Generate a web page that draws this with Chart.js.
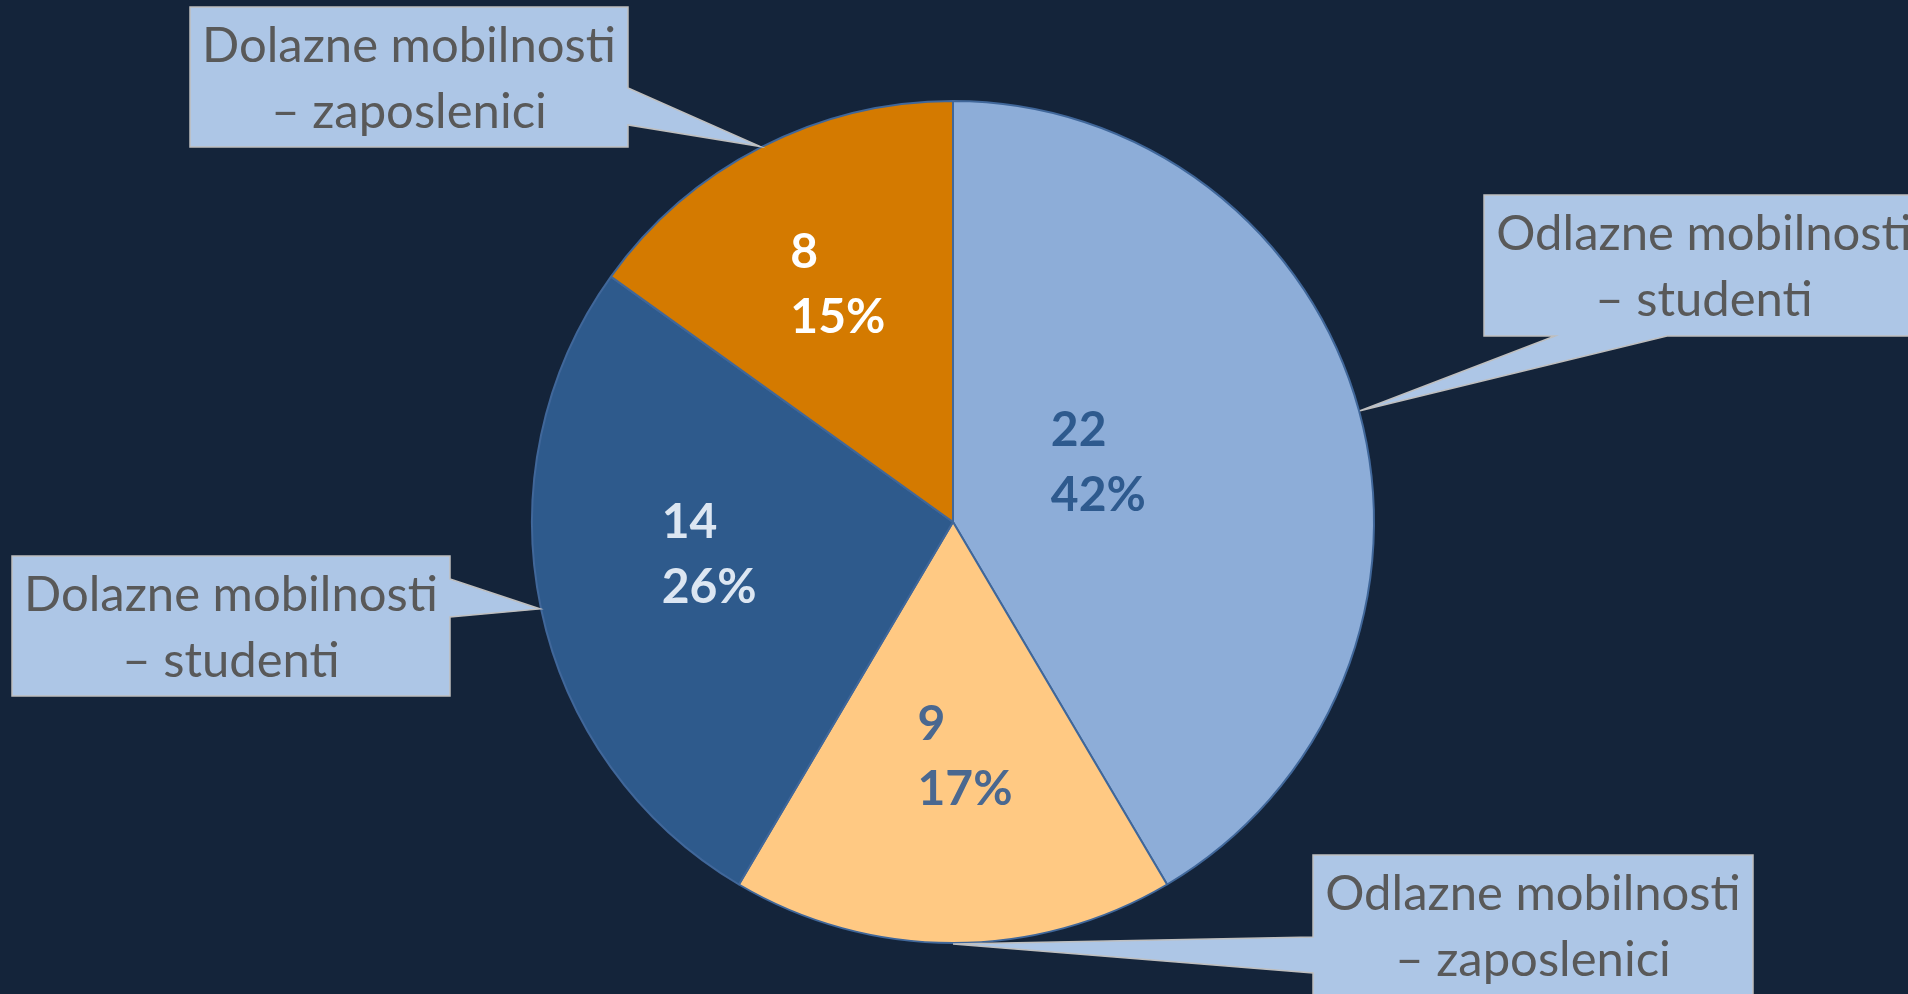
<!DOCTYPE html>
<html>
<head>
<meta charset="utf-8">
<script src="https://cdn.jsdelivr.net/npm/chart.js"></script>
<style>
  html, body { margin: 0; padding: 0; background: #14243a; }
  #wrap { width: 1908px; height: 994px; position: relative; }
</style>
</head>
<body>
<div id="wrap"><canvas id="pieChart"></canvas></div>
<script>
const categories = [
  ['Odlazne mobilnosti', '– studenti'],
  ['Odlazne mobilnosti', '– zaposlenici'],
  ['Dolazne mobilnosti', '– studenti'],
  ['Dolazne mobilnosti', '– zaposlenici']
];
const values = [22, 9, 14, 8];

const sliceColors = ['#8dadd8', '#ffc983', '#2e5a8c', '#d47a00'];
const valueColors = ['#2e5a8e', '#4a6890', '#dce6f2', '#ffffff'];
// how far out (fraction of radius) each value label sits, plus a small nudge
const labelRadius = [0.38, 0.55, 0.57, 0.62];
const labelNudge = [[-9, -16], [12, 4], [-9, -16], [4, -4]];

// callout boxes: x, y, w, h, side the pointer leaves from, pointer base
const callouts = [
  { box: [1484, 195, 440, 141], side: 'bottom', base: [1555, 1667] },
  { box: [1313, 855, 440, 150], side: 'left', base: [937, 973] },
  { box: [12, 556, 438, 140], side: 'right', base: [579, 617] },
  { box: [190, 7, 438, 140], side: 'right', base: [88, 125] }
];

const total = values.reduce((a, b) => a + b, 0);

const calloutPlugin = {
  id: 'callouts',
  afterDatasetsDraw(chart) {
    const ctx = chart.ctx;
    const arcs = chart.getDatasetMeta(0).data;

    // value + percent labels inside slices
    arcs.forEach((arc, i) => {
      const mid = (arc.startAngle + arc.endAngle) / 2;
      const r = arc.outerRadius * labelRadius[i];
      const cx = arc.x + Math.cos(mid) * r + labelNudge[i][0];
      const cy = arc.y + Math.sin(mid) * r + labelNudge[i][1];
      const lines = [String(values[i]), Math.round(values[i] / total * 100) + '%'];
      ctx.save();
      ctx.font = 'bold 48px Lato';
      ctx.fillStyle = valueColors[i];
      ctx.textBaseline = 'middle';
      ctx.textAlign = 'left';
      const w = Math.max(...lines.map(l => ctx.measureText(l).width));
      ctx.fillText(lines[0], cx - w / 2, cy - 33);
      ctx.fillText(lines[1], cx - w / 2, cy + 32);
      ctx.restore();
    });

    // callout boxes
    arcs.forEach((arc, i) => {
      const c = callouts[i];
      const [x, y, w, h] = c.box;
      const mid = (arc.startAngle + arc.endAngle) / 2;
      const tx = arc.x + Math.cos(mid) * (arc.outerRadius + 1);
      const ty = arc.y + Math.sin(mid) * (arc.outerRadius + 1);
      const [b0, b1] = c.base;
      let pts;
      if (c.side === 'right') {
        pts = [[x, y], [x + w, y], [x + w, b0], [tx, ty], [x + w, b1], [x + w, y + h], [x, y + h]];
      } else if (c.side === 'bottom') {
        pts = [[x, y], [x + w, y], [x + w, y + h], [b1, y + h], [tx, ty], [b0, y + h], [x, y + h]];
      } else {
        pts = [[x, y], [x + w, y], [x + w, y + h], [x, y + h], [x, b1], [tx, ty], [x, b0]];
      }
      ctx.save();
      ctx.beginPath();
      pts.forEach((p, k) => k ? ctx.lineTo(p[0], p[1]) : ctx.moveTo(p[0], p[1]));
      ctx.closePath();
      ctx.fillStyle = '#adc6e6';
      ctx.fill();
      ctx.lineWidth = 1.5;
      ctx.strokeStyle = '#bfbfbf';
      ctx.stroke();

      ctx.font = '49px Lato';
      ctx.fillStyle = '#595959';
      ctx.textAlign = 'center';
      ctx.textBaseline = 'middle';
      const tcx = x + w / 2;
      const tcy = y + 71;
      ctx.fillText(categories[i][0], tcx, tcy - 32);
      ctx.fillText(categories[i][1], tcx, tcy + 34);
      ctx.restore();
    });
  }
};

new Chart(document.getElementById('pieChart'), {
  type: 'pie',
  data: {
    labels: categories.map(c => c.join(' ')),
    datasets: [{
      data: values,
      backgroundColor: sliceColors,
      borderColor: '#40679a',
      borderWidth: 2,
      hoverOffset: 0
    }]
  },
  options: {
    responsive: true,
    maintainAspectRatio: false,
    animation: false,
    layout: { padding: { top: 100, bottom: 50, left: 531, right: 533 } },
    plugins: {
      legend: { display: false },
      tooltip: { enabled: false }
    }
  },
  plugins: [calloutPlugin]
});
</script>
</body>
</html>
